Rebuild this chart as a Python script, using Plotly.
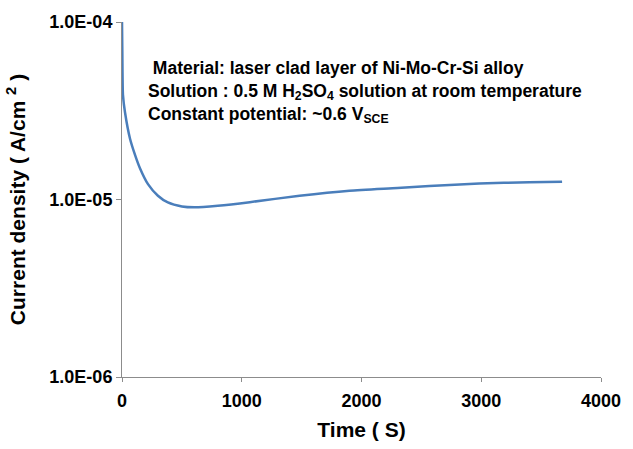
import plotly.graph_objects as go

# Data
time_s = [0, 3, 8, 25, 67, 108, 150, 217, 300, 383, 500, 608, 800, 1067, 1483,
          1900, 2300, 2567, 2983, 3400, 3675]
current_density = [1.0e-4, 6.46e-5, 3.89e-5, 3.10e-5, 2.20e-5, 1.79e-5, 1.50e-5,
                   1.22e-5, 1.05e-5, 9.62e-6, 9.14e-6, 9.04e-6, 9.23e-6, 9.66e-6,
                   1.05e-5, 1.12e-5, 1.16e-5, 1.19e-5, 1.23e-5, 1.25e-5, 1.26e-5]
y_tickvals = [1e-6, 1e-5, 1e-4]
y_ticktext = ["1.0E-06", "1.0E-05", "1.0E-04"]
x_tickvals = [0, 1000, 2000, 3000, 4000]

FONT = "Liberation Sans, Arial, sans-serif"

fig = go.Figure()
fig.add_trace(go.Scatter(
    x=time_s, y=current_density, mode="lines",
    line=dict(color="#4A7EBB", width=2.5, shape="spline", smoothing=0.6),
    showlegend=False,
))

fig.update_layout(
    width=633, height=449,
    margin=dict(l=122, r=31, t=18, b=69),
    paper_bgcolor="white", plot_bgcolor="white",
    font=dict(family=FONT, color="black"),
    xaxis=dict(
        range=[0, 4000], tickvals=x_tickvals,
        showgrid=False, zeroline=False,
        showline=True, linecolor="#8c8c8c", linewidth=1,
        ticks="outside", ticklen=4, tickcolor="#8c8c8c",
        ticklabelstandoff=3,
        tickfont=dict(size=18, family=FONT, weight="bold"),
        title=dict(text="Time ( S)", font=dict(size=21, family=FONT, weight="bold"), standoff=12),
    ),
    yaxis=dict(
        type="log", range=[-6, -4], tickvals=y_tickvals, ticktext=y_ticktext,
        showgrid=False, zeroline=False,
        showline=True, linecolor="#8c8c8c", linewidth=1,
        ticks="outside", ticklen=5, tickcolor="#8c8c8c",
        tickfont=dict(size=18, family=FONT, weight="bold"),
        title=dict(text="Current density ( A/cm <sup>2</sup> )",
                   font=dict(size=21, family=FONT, weight="bold"), standoff=18),
    ),
)

fig.add_annotation(
    xref="paper", yref="paper", x=0.05, y=0.905, xanchor="left", yanchor="top",
    align="left", showarrow=False,
    text=(" Material: laser clad layer of Ni-Mo-Cr-Si alloy<br>"
          "Solution : 0.5 M H<sub>2</sub>SO<sub>4</sub> solution at room temperature<br>"
          "Constant potential: ~0.6 V<sub>SCE</sub>"),
    font=dict(size=17.5, family=FONT, weight="bold", color="black"),
)

fig.write_html("out.html")
